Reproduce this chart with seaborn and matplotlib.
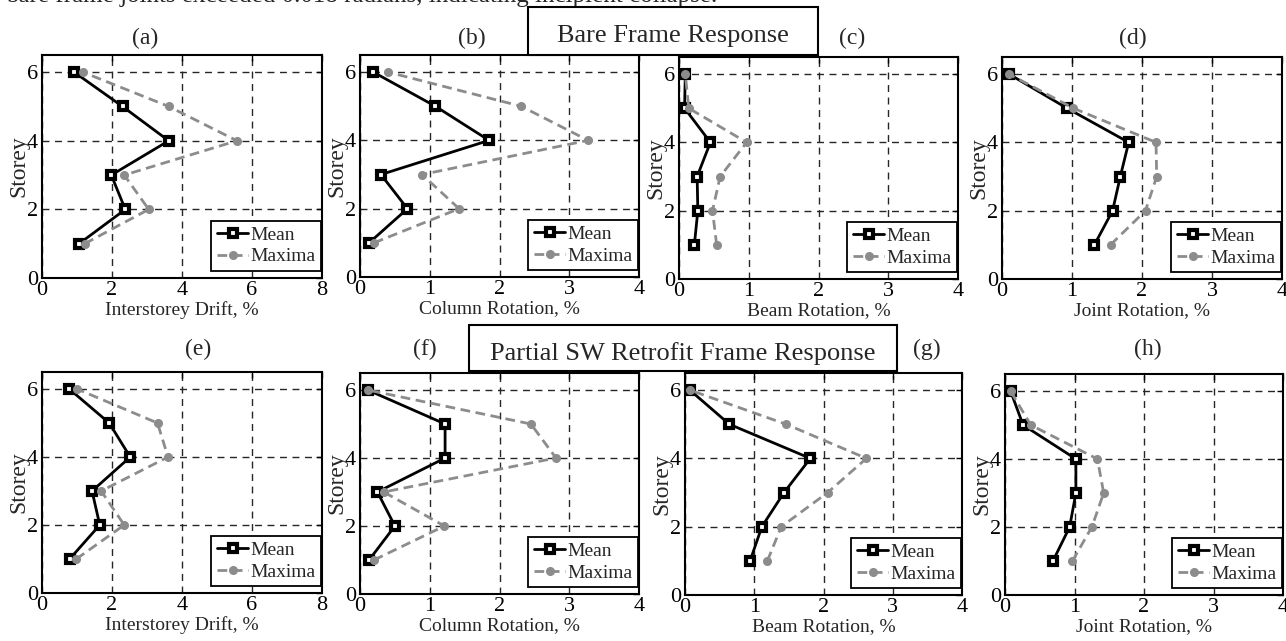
import matplotlib
matplotlib.use("Agg")
import matplotlib.pyplot as plt
from matplotlib.patches import Rectangle
import seaborn as sns
import pandas as pd

# storey levels (y axis)
storeys = [1, 2, 3, 4, 5, 6]

# bare frame response (values in %)
drift_bare_mean = [1.06, 2.38, 1.98, 3.62, 2.30, 0.92]
drift_bare_max = [1.22, 3.05, 2.35, 5.57, 3.62, 1.17]
col_bare_mean = [0.13, 0.68, 0.30, 1.85, 1.08, 0.19]
col_bare_max = [0.20, 1.42, 0.89, 3.27, 2.31, 0.40]
beam_bare_mean = [0.22, 0.27, 0.26, 0.45, 0.08, 0.09]
beam_bare_max = [0.54, 0.48, 0.59, 0.97, 0.14, 0.09]
joint_bare_mean = [1.32, 1.58, 1.69, 1.81, 0.93, 0.10]
joint_bare_max = [1.55, 2.05, 2.21, 2.20, 1.02, 0.10]

# partial shear wall retrofit response
drift_sw_mean = [0.79, 1.65, 1.43, 2.52, 1.92, 0.78]
drift_sw_max = [0.98, 2.35, 1.69, 3.60, 3.30, 1.00]
col_sw_mean = [0.13, 0.50, 0.25, 1.22, 1.22, 0.11]
col_sw_max = [0.20, 1.21, 0.34, 2.81, 2.45, 0.11]
beam_sw_mean = [0.94, 1.11, 1.43, 1.81, 0.64, 0.07]
beam_sw_max = [1.19, 1.39, 2.06, 2.62, 1.46, 0.07]
joint_sw_mean = [0.69, 0.93, 1.02, 1.02, 0.26, 0.08]
joint_sw_max = [0.97, 1.25, 1.42, 1.33, 0.37, 0.08]

panel_letters = ["(a)", "(b)", "(c)", "(d)", "(e)", "(f)", "(g)", "(h)"]
x_labels = ["Interstorey Drift, %", "Column Rotation, %", "Beam Rotation, %", "Joint Rotation, %"]
x_limits = [8, 4, 4, 4]
x_steps = [2, 1, 1, 1]

W, H = 1286, 641

sns.set_style("white")
plt.rcParams["font.family"] = ["Liberation Serif", "DejaVu Serif"]

fig = plt.figure(figsize=(W / 100, H / 100), dpi=100)


def px_axes(left, top, right, bottom):
    """Add axes from a pixel box (origin top-left)."""
    return fig.add_axes([left / W, 1 - bottom / H, (right - left) / W, (bottom - top) / H])


# pixel boxes of the eight panels
boxes = [
    (42, 55, 322, 278), (360, 55, 639, 277), (679, 57, 958, 279), (1002, 57, 1282, 279),
    (42, 372, 322, 593), (360, 373, 639, 594), (685, 373, 962, 595), (1005, 374, 1283, 595),
]
letter_pos = [(145, 38), (472, 38), (852, 38), (1133, 38),
              (198, 349), (425, 349), (927, 349), (1148, 349)]

series = [
    (drift_bare_mean, drift_bare_max), (col_bare_mean, col_bare_max),
    (beam_bare_mean, beam_bare_max), (joint_bare_mean, joint_bare_max),
    (drift_sw_mean, drift_sw_max), (col_sw_mean, col_sw_max),
    (beam_sw_mean, beam_sw_max), (joint_sw_mean, joint_sw_max),
]

gray = "#8c8c8c"

for i, (mean_vals, max_vals) in enumerate(series):
    ax = px_axes(*boxes[i])
    col = i % 4
    df = pd.DataFrame({"storey": storeys, "mean": mean_vals, "max": max_vals})

    sns.lineplot(data=df, x="mean", y="storey", orient="y", ax=ax, label="Mean",
                 color="black", lw=2.0, marker="s", ms=5.5, mfc="white",
                 mec="black", mew=3.0, zorder=3)
    sns.lineplot(data=df, x="max", y="storey", orient="y", ax=ax, label="Maxima",
                 color=gray, lw=2.0, linestyle=(0, (3.5, 2)), marker="o", ms=5.5,
                 mfc=gray, mec=gray, mew=1, zorder=4)

    xmax = x_limits[col]
    ax.set_xlim(0, xmax)
    ax.set_ylim(0, 6.5)
    ax.set_xticks(range(0, xmax + 1, x_steps[col]))
    ax.set_yticks([0, 2, 4, 6])
    ax.grid(True, color="0.15", linestyle=(0, (5, 4)), lw=1.0)
    ax.tick_params(direction="in", length=4, width=1, top=True, right=True,
                   labelsize=16, pad=3, colors="black")
    ax.tick_params(axis="x", pad=2)
    for sp in ax.spines.values():
        sp.set_color("black")
        sp.set_linewidth(1.5)

    ax.set_xlabel(x_labels[col], fontsize=14, labelpad=1)
    ax.set_ylabel("Storey", fontsize=17, labelpad=-2)

    leg = ax.legend(loc="lower right", bbox_to_anchor=(0.997, 0.03), fontsize=14,
                    frameon=True, fancybox=False, edgecolor="black", framealpha=1,
                    borderaxespad=0, handlelength=1.6, handletextpad=0.1,
                    borderpad=0.3, labelspacing=0.2)
    leg.get_frame().set_linewidth(1.3)

    lx, ly = letter_pos[i]
    fig.text(lx / W, 1 - ly / H, panel_letters[i], fontsize=17, ha="center", va="center")

# heading boxes
for (l, t, r, b, base, txt) in [(528, 7, 818, 55, 42, "Bare Frame Response"),
                                (469, 325, 897, 371, 360, "Partial SW Retrofit Frame Response")]:
    fig.patches.append(Rectangle((l / W, 1 - b / H), (r - l) / W, (b - t) / H,
                                 transform=fig.transFigure, facecolor="white",
                                 edgecolor="black", lw=1.5, zorder=5))
    fig.text((l + r) / 2 / W, 1 - base / H, txt, fontsize=19,
             ha="center", va="baseline", zorder=6)

# clipped line of body text above the figure
fig.text(6 / W, 1 - 2 / H, "bare frame joints exceeded 0.018 radians, indicating incipient collapse.",
         fontsize=18, ha="left", va="baseline")

fig.savefig("out.png", dpi=100)
